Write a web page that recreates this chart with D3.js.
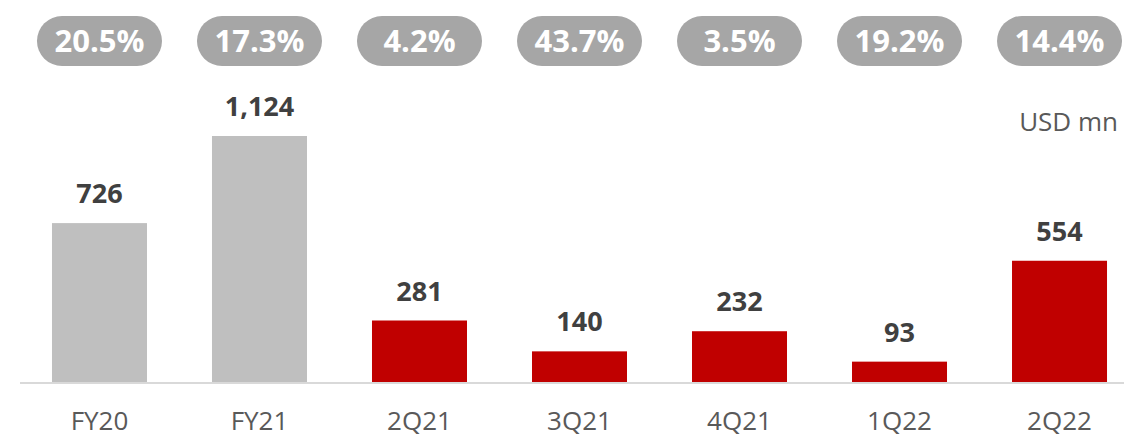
<!DOCTYPE html>
<html>
<head>
<meta charset="utf-8">
<title>USD mn bars</title>
<style>
  body { margin: 0; background: #fff; font-family: "Open Sans", "Noto Sans", sans-serif; }
</style>
<script src="https://d3js.org/d3.v7.min.js"></script>
</head>
<body>
<svg></svg>
<script>
const categories = ["FY20", "FY21", "2Q21", "3Q21", "4Q21", "1Q22", "2Q22"];
const values = [726, 1124, 281, 140, 232, 93, 554];
const pillLabels = ["20.5%", "17.3%", "4.2%", "43.7%", "3.5%", "19.2%", "14.4%"];
const isAnnual = [true, true, false, false, false, false, false];

const width = 1124, height = 437;
const baseY = 382;

const svg = d3.select("svg").attr("width", width).attr("height", height);

const x = d3.scaleBand()
  .domain(categories)
  .range([19.5, 1139.5])
  .paddingInner(0.40625)
  .paddingOuter(0.203);

const y = d3.scaleLinear()
  .domain([0, 1124])
  .range([baseY, 136]);

// bars
svg.selectAll("rect.bar")
  .data(categories)
  .enter().append("rect")
  .attr("class", "bar")
  .attr("x", d => x(d))
  .attr("width", x.bandwidth())
  .attr("y", (d, i) => y(values[i]))
  .attr("height", (d, i) => baseY - y(values[i]))
  .attr("fill", (d, i) => isAnnual[i] ? "#bfbfbf" : "#c00000");

// baseline
svg.append("line")
  .attr("x1", 20).attr("x2", width)
  .attr("y1", baseY + 1).attr("y2", baseY + 1)
  .attr("stroke", "#d9d9d9").attr("stroke-width", 2);

// value labels
svg.selectAll("text.val")
  .data(categories)
  .enter().append("text")
  .attr("class", "val")
  .attr("x", d => x(d) + x.bandwidth() / 2)
  .attr("y", (d, i) => y(values[i]) - 20)
  .attr("text-anchor", "middle")
  .attr("font-size", 27)
  .attr("font-weight", 700)
  .attr("fill", "#404040")
  .text((d, i) => d3.format(",")(values[i]));

// category axis labels
svg.selectAll("text.cat")
  .data(categories)
  .enter().append("text")
  .attr("class", "cat")
  .attr("x", d => x(d) + x.bandwidth() / 2)
  .attr("y", 430)
  .attr("text-anchor", "middle")
  .attr("font-size", 26)
  .attr("fill", "#595959")
  .text(d => d);

// pills
const pill = svg.selectAll("g.pill")
  .data(categories)
  .enter().append("g")
  .attr("class", "pill")
  .attr("transform", d => "translate(" + (x(d) + x.bandwidth() / 2) + ",41)");

pill.append("rect")
  .attr("x", -62.5).attr("y", -25)
  .attr("width", 125).attr("height", 50)
  .attr("rx", 25).attr("ry", 25)
  .attr("fill", "#a6a6a6");

pill.append("text")
  .attr("text-anchor", "middle")
  .attr("y", 11)
  .attr("font-size", 31)
  .attr("font-weight", 700)
  .attr("fill", "#fff")
  .text((d, i) => pillLabels[i]);

// unit
svg.append("text")
  .attr("x", 1118).attr("y", 131)
  .attr("text-anchor", "end")
  .attr("font-size", 26)
  .attr("fill", "#595959")
  .text("USD mn");
</script>
</body>
</html>
